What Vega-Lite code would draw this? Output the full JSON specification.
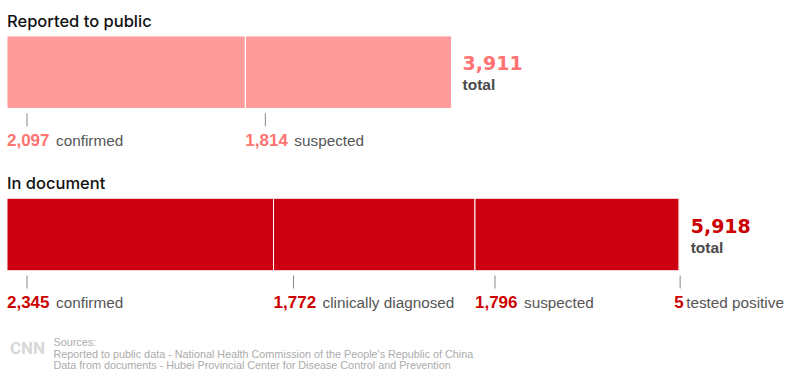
{
  "$schema": "https://vega.github.io/schema/vega-lite/v6.json",
  "width": 801,
  "height": 386,
  "padding": 0,
  "autosize": {"type": "none"},
  "background": "white",
  "config": {"view": {"stroke": null}},
  "datasets": {
    "cases": [
      {"group": "Reported to public", "category": "confirmed", "value": 2097, "order": 1},
      {"group": "Reported to public", "category": "suspected", "value": 1814, "order": 2},
      {"group": "In document", "category": "confirmed", "value": 2345, "order": 1},
      {"group": "In document", "category": "clinically diagnosed", "value": 1772, "order": 2},
      {"group": "In document", "category": "suspected", "value": 1796, "order": 3},
      {"group": "In document", "category": "tested positive", "value": 5, "order": 4}
    ]
  },
  "data": {"name": "cases"},
  "transform": [
    {"stack": "value", "groupby": ["group"], "sort": [{"field": "order", "order": "ascending"}], "as": ["x0", "x1"]}
  ],
  "encoding": {
    "y": {
      "field": "group",
      "type": "nominal",
      "scale": {"type": "point", "domain": ["Reported to public", "In document"], "range": [72.2, 234.5], "padding": 0},
      "axis": null
    }
  },
  "layer": [
    {
      "mark": {"type": "bar", "height": 72.5, "stroke": "white", "strokeWidth": 1},
      "encoding": {
        "x": {"field": "x0", "type": "quantitative", "scale": {"domain": [-61.5, 6985], "nice": false, "zero": false}, "axis": null},
        "x2": {"field": "x1"},
        "color": {"condition": {"test": "datum.group === 'In document'", "value": "#cc0011"}, "value": "#ff9b9b"}
      }
    },
    {
      "transform": [{"filter": "datum.order == 1"}],
      "mark": {"type": "text", "align": "left", "baseline": "alphabetic", "dy": -45.5, "font": "Inter", "fontSize": 16.5, "fontWeight": 500, "color": "#111111"},
      "encoding": {
        "x": {"field": "x0", "type": "quantitative"},
        "text": {"field": "group"}
      }
    },
    {
      "transform": [{"filter": "datum.value >= 100"}],
      "mark": {"type": "tick", "orient": "vertical", "thickness": 1, "size": 13, "yOffset": 47.5, "xOffset": 20, "color": "#555555"},
      "encoding": {"x": {"field": "x0", "type": "quantitative"}}
    },
    {
      "transform": [{"filter": "datum.value < 100"}],
      "mark": {"type": "tick", "orient": "vertical", "thickness": 1, "size": 13, "yOffset": 47.5, "xOffset": 1, "color": "#555555"},
      "encoding": {"x": {"field": "x0", "type": "quantitative"}}
    },
    {
      "transform": [{"filter": "datum.value >= 100"}],
      "mark": {"type": "text", "align": "left", "baseline": "alphabetic", "dy": 73.3, "font": "Liberation Sans", "fontSize": 17, "fontWeight": "bold"},
      "encoding": {
        "x": {"field": "x0", "type": "quantitative"},
        "text": {"field": "value", "type": "quantitative", "format": ","},
        "color": {"condition": {"test": "datum.group === 'In document'", "value": "#cc0000"}, "value": "#ff7373"}
      }
    },
    {
      "transform": [{"filter": "datum.value < 100"}],
      "mark": {"type": "text", "align": "left", "baseline": "alphabetic", "dy": 73.3, "dx": -5, "font": "Liberation Sans", "fontSize": 17, "fontWeight": "bold"},
      "encoding": {
        "x": {"field": "x0", "type": "quantitative"},
        "text": {"field": "value", "type": "quantitative", "format": ","},
        "color": {"condition": {"test": "datum.group === 'In document'", "value": "#cc0000"}, "value": "#ff7373"}
      }
    },
    {
      "transform": [{"filter": "datum.value >= 100"}],
      "mark": {"type": "text", "align": "left", "baseline": "alphabetic", "dy": 73.3, "dx": 49, "font": "Liberation Sans", "fontSize": 15.3, "color": "#555555"},
      "encoding": {
        "x": {"field": "x0", "type": "quantitative"},
        "text": {"field": "category"}
      }
    },
    {
      "transform": [{"filter": "datum.value < 100"}],
      "mark": {"type": "text", "align": "left", "baseline": "alphabetic", "dy": 73.3, "dx": 7, "font": "Liberation Sans", "fontSize": 15.3, "color": "#555555"},
      "encoding": {
        "x": {"field": "x0", "type": "quantitative"},
        "text": {"field": "category"}
      }
    },
    {
      "transform": [{"aggregate": [{"op": "sum", "field": "value", "as": "total"}], "groupby": ["group"]}],
      "mark": {"type": "text", "align": "left", "baseline": "alphabetic", "dy": -2, "dx": 11, "font": "DejaVu Sans", "fontSize": 19, "fontWeight": "bold"},
      "encoding": {
        "x": {"field": "total", "type": "quantitative"},
        "text": {"field": "total", "type": "quantitative", "format": ","},
        "color": {"condition": {"test": "datum.group === 'In document'", "value": "#cc0000"}, "value": "#ff7373"}
      }
    },
    {
      "transform": [{"aggregate": [{"op": "sum", "field": "value", "as": "total"}], "groupby": ["group"]}],
      "mark": {"type": "text", "align": "left", "baseline": "alphabetic", "dy": 18, "dx": 11, "font": "Liberation Sans", "fontSize": 15.5, "fontWeight": "bold", "color": "#4a4a4a", "text": "total"},
      "encoding": {
        "x": {"field": "total", "type": "quantitative"}
      }
    },
    {
      "transform": [{"filter": "datum.group === 'In document' && datum.order == 1"}],
      "mark": {"type": "text", "align": "left", "baseline": "alphabetic", "dy": 119, "dx": 3, "font": "Roboto", "fontSize": 17, "fontWeight": "bold", "color": "#d8d8d8", "text": "CNN"},
      "encoding": {
        "x": {"field": "x0", "type": "quantitative"}
      }
    },
    {
      "transform": [{"filter": "datum.group === 'In document' && datum.order == 1"}],
      "mark": {
        "type": "text", "align": "left", "baseline": "alphabetic", "dy": 111.5, "dx": 46.5,
        "font": "Liberation Sans", "fontSize": 10.8, "color": "#ababab", "lineHeight": 11.7,
        "text": ["Sources:", "Reported to public data - National Health Commission of the People's Republic of China", "Data from documents - Hubei Provincial Center for Disease Control and Prevention"]
      },
      "encoding": {
        "x": {"field": "x0", "type": "quantitative"}
      }
    }
  ]
}
